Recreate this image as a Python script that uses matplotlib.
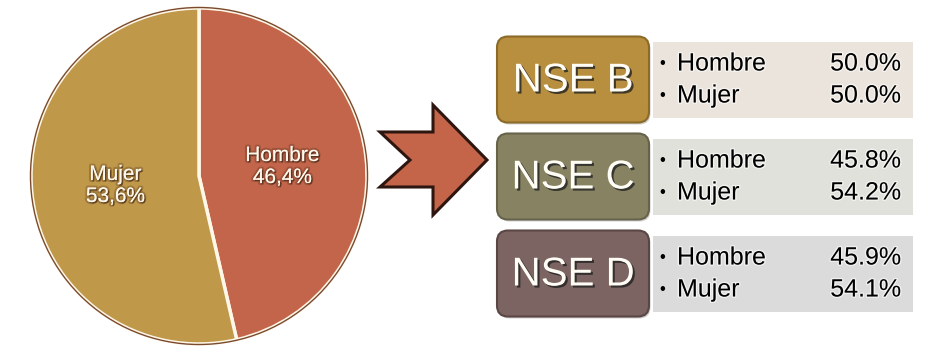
import numpy as np
import matplotlib
matplotlib.use("Agg")
import matplotlib.pyplot as plt
import matplotlib.patheffects as pe
from matplotlib.patches import FancyBboxPatch, Polygon, Rectangle, Circle

plt.rcParams['font.family'] = ['Liberation Sans', 'DejaVu Sans']

# datos
pie_labels = ['Hombre', 'Mujer']
pie_values = [46.4, 53.6]
pie_colors = ['#C2654A', '#C0984A']

groups = ['NSE B', 'NSE C', 'NSE D']
hombre = [50.0, 45.8, 45.9]
mujer = [50.0, 54.2, 54.1]
box_colors = ['#B88F3E', '#878362', '#7B6461']
box_edges = ['#8C6A28', '#66634A', '#5A4745']
panel_colors = ['#EBE4DC', '#E1E1DB', '#DBDBDB']

W, H = 928, 348
fig = plt.figure(figsize=(9.28, 3.48), dpi=100)
ax = fig.add_axes([0, 0, 1, 1])

# pastel (coordenadas en pixeles, y hacia arriba)
cx, cy, r = 199, H - 176, 168
lbls = [f"{l}\n{str(v).replace('.', ',')}%" for l, v in zip(pie_labels, pie_values)]
wedges, texts = ax.pie(pie_values, labels=lbls, colors=pie_colors, startangle=90,
                       counterclock=False, center=(cx, cy), radius=r,
                       labeldistance=0.5,
                       wedgeprops=dict(edgecolor='#FFF8E8', linewidth=2.5),
                       textprops=dict(color='#FFF8EC', fontsize=15, linespacing=1.2))
shadow = [pe.withStroke(linewidth=3, foreground='#3a2010', alpha=0.25),
          pe.withSimplePatchShadow(offset=(1, -1), shadow_rgbFace='#3a2010', alpha=0.6)]
for t in texts:
    t.set_ha('center')
    t.set_va('center')
    t.set_path_effects(shadow)
ax.add_patch(Circle((cx, cy), r + 0.5, fill=False, edgecolor='#7a4a30', linewidth=1, zorder=3))

# flecha
def fy(y):
    return H - y

arrow_pts = [(380, fy(132)), (433, fy(132)), (433, fy(105)), (487, fy(160)),
             (433, fy(215)), (433, fy(187)), (380, fy(187)), (410, fy(160))]
ax.add_patch(Polygon(arrow_pts, closed=True, facecolor='#C4654A', edgecolor='#2E1610',
                     linewidth=2.2, joinstyle='miter', zorder=4))

# cajas NSE
for i, g in enumerate(groups):
    yc = 79.5 + 97 * i
    bx0, bx1 = 497, 649
    bh = 86
    # sombra
    ax.add_patch(FancyBboxPatch((bx0 + 1.5, fy(yc + bh / 2) - 2), bx1 - bx0, bh,
                                boxstyle='round,pad=0,rounding_size=11',
                                facecolor='#000000', alpha=0.18, edgecolor='none', zorder=4))
    ax.add_patch(FancyBboxPatch((bx0, fy(yc + bh / 2)), bx1 - bx0, bh,
                                boxstyle='round,pad=0,rounding_size=11',
                                facecolor=box_colors[i], edgecolor=box_edges[i],
                                linewidth=1.5, zorder=5))
    ax.text((bx0 + bx1) / 2, fy(yc) - 1, g, color='#FFFDF5', fontsize=29,
            ha='center', va='center', zorder=6,
            path_effects=[pe.withSimplePatchShadow(offset=(1.5, -1.5),
                                                   shadow_rgbFace='#222222', alpha=0.8)])
    # panel
    ph = 76
    ax.add_patch(Rectangle((653, fy(yc + ph / 2)), 913 - 653, ph,
                           facecolor=panel_colors[i], edgecolor='none', zorder=5))
    glow = [pe.withStroke(linewidth=2, foreground='white', alpha=0.6)]
    for dy, name, val in [(-16, 'Hombre', hombre[i]), (16, 'Mujer', mujer[i])]:
        ax.text(659, fy(yc + dy), '•', fontsize=12, ha='left', va='center',
                color='black', zorder=6)
        ax.text(677, fy(yc + dy), name, fontsize=18, ha='left', va='center',
                color='black', zorder=6, path_effects=glow)
        ax.text(901, fy(yc + dy), f"{val:.1f}%", fontsize=18, ha='right', va='center',
                color='black', zorder=6, path_effects=glow)

ax.set_xlim(0, W)
ax.set_ylim(0, H)
ax.set_aspect('auto')
ax.axis('off')

fig.savefig('out.png', dpi=100, facecolor='white')
